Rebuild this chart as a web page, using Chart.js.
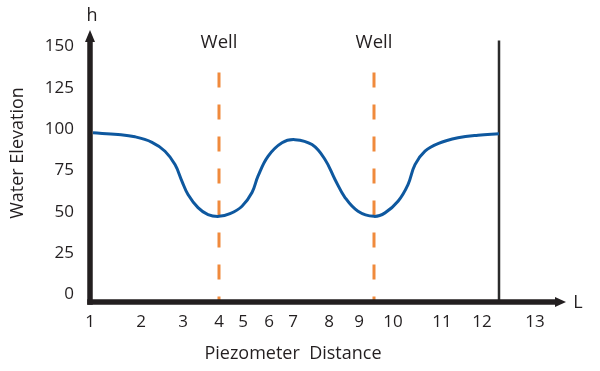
<!DOCTYPE html>
<html>
<head>
<meta charset="utf-8">
<script src="https://cdn.jsdelivr.net/npm/chart.js@4"></script>
<style>
  html, body { margin: 0; padding: 0; background: #fff; }
  #wrap { width: 600px; height: 371px; }
</style>
</head>
<body>
<div id="wrap"><canvas id="myChart"></canvas></div>
<script>
// Distance along the section (axis units, 10 px each) and water level
const distance = [0.3, 2.8, 4.5, 6.2, 7.5, 8.5, 9.2, 9.8, 10.8, 11.8, 12.9, 14.0, 15.2, 16.2, 16.8, 17.8, 19.2, 20.5, 22.2, 23.5, 24.5, 25.5, 26.8, 28.4, 29.5, 30.8, 31.8, 32.5, 33.5, 34.8, 36.8, 38.8, 40.9];
const elevation = [97.8, 96.8, 95.4, 92.1, 86.7, 78.6, 68.5, 60.5, 52.6, 48.4, 47.3, 48.9, 53.4, 61.7, 71.6, 83.6, 91.8, 93.7, 90.7, 81.7, 69.6, 58.7, 50.4, 47.3, 49.4, 56.4, 66.5, 78.6, 86.7, 91.3, 94.8, 96.4, 97.2];

// Wells and right boundary
const wellPositions = [12.9, 28.4];
const wellTop = 134.3;
const boundaryPosition = 40.9;
const boundaryTop = 153.6;

// Axis ticks
const xTickPositions = [0, 5.1, 9.3, 12.9, 15.3, 17.9, 20.3, 23.9, 26.9, 30.3, 35.2, 39.2, 44.5];
const xTickLabels = ['1', '2', '3', '4', '5', '6', '7', '8', '9', '10', '11', '12', '13'];
const yTickValues = [0, 25, 50, 75, 100, 125, 150];

const yMin = -4.5;
const yMax = 158.8;
const xMin = 0;
const xMax = 47.5;

const FONT = "'Open Sans', 'Noto Sans', sans-serif";
const AXIS_COLOR = '#231f20';

// Decorations: axis lines with arrows, captions
const sketchPlugin = {
    id: 'sketch',
    afterDatasetsDraw(chart) {
        const ctx = chart.ctx;
        const area = chart.chartArea;
        const xs = chart.scales.x;
        ctx.save();
        ctx.fillStyle = AXIS_COLOR;
        ctx.strokeStyle = AXIS_COLOR;
        ctx.lineWidth = 5.5;
        ctx.lineCap = 'butt';

        // y axis
        ctx.beginPath();
        ctx.moveTo(area.left, area.bottom + 2.75);
        ctx.lineTo(area.left, area.top + 8);
        ctx.stroke();
        ctx.beginPath();
        ctx.moveTo(area.left, area.top - 2);
        ctx.lineTo(area.left - 5, area.top + 10);
        ctx.lineTo(area.left + 5, area.top + 10);
        ctx.closePath();
        ctx.fill();

        // x axis
        ctx.beginPath();
        ctx.moveTo(area.left - 2.75, area.bottom);
        ctx.lineTo(area.right - 8, area.bottom);
        ctx.stroke();
        ctx.beginPath();
        ctx.moveTo(area.right + 1, area.bottom);
        ctx.lineTo(area.right - 10, area.bottom - 5);
        ctx.lineTo(area.right - 10, area.bottom + 5);
        ctx.closePath();
        ctx.fill();

        // captions
        ctx.textAlign = 'center';
        ctx.textBaseline = 'middle';
        ctx.font = '18px ' + FONT;
        ctx.fillText('h', area.left + 2, 16);
        ctx.fillText('L', area.right + 13, area.bottom + 1);
        ctx.font = '18.5px ' + FONT;
        wellPositions.forEach(p => ctx.fillText('Well', xs.getPixelForValue(p), 43));
        ctx.font = '18px ' + FONT;
        ctx.fillText('Piezometer  Distance', 293, 354);

        ctx.translate(18, 153);
        ctx.rotate(-Math.PI / 2);
        ctx.fillText('Water Elevation', 0, 0);
        ctx.restore();
    }
};

function createChart() {
    const ctx = document.getElementById('myChart').getContext('2d');

    const datasets = [
        {
            label: 'Water table',
            data: distance.map((d, i) => ({ x: d, y: elevation[i] })),
            borderColor: '#0e589f',
            borderWidth: 3,
            tension: 0.4,
            pointRadius: 0,
            fill: false
        },
        {
            label: 'Boundary',
            data: [{ x: boundaryPosition, y: yMin }, { x: boundaryPosition, y: boundaryTop }],
            borderColor: '#2b2b2b',
            borderWidth: 2.5,
            pointRadius: 0
        }
    ];
    wellPositions.forEach(p => {
        datasets.push({
            label: 'Well',
            data: [{ x: p, y: wellTop }, { x: p, y: yMin }],
            borderColor: '#f08a3c',
            borderWidth: 3,
            borderDash: [15, 17],
            pointRadius: 0
        });
    });

    new Chart(ctx, {
        type: 'line',
        data: { datasets: datasets },
        options: {
            responsive: true,
            maintainAspectRatio: false,
            animation: false,
            layout: { padding: { top: 32, right: 35, left: 0, bottom: 0 } },
            scales: {
                x: {
                    type: 'linear',
                    min: xMin,
                    max: xMax,
                    grid: { display: false, drawTicks: false },
                    border: { display: false },
                    afterBuildTicks: scale => {
                        scale.ticks = xTickPositions.map(v => ({ value: v }));
                    },
                    afterFit: scale => { scale.height = 69; },
                    ticks: {
                        autoSkip: false,
                        maxRotation: 0,
                        padding: 10,
                        color: AXIS_COLOR,
                        font: { family: FONT, size: 17 },
                        callback: (value, index) => xTickLabels[index]
                    }
                },
                y: {
                    min: yMin,
                    max: yMax,
                    grid: { display: false, drawTicks: false },
                    border: { display: false },
                    afterBuildTicks: scale => {
                        scale.ticks = yTickValues.map(v => ({ value: v }));
                    },
                    afterFit: scale => { scale.width = 90; },
                    ticks: {
                        padding: 16,
                        color: AXIS_COLOR,
                        font: { family: FONT, size: 17 }
                    }
                }
            },
            plugins: {
                legend: { display: false },
                tooltip: { enabled: false }
            }
        },
        plugins: [sketchPlugin]
    });
}

createChart();
</script>
</body>
</html>
